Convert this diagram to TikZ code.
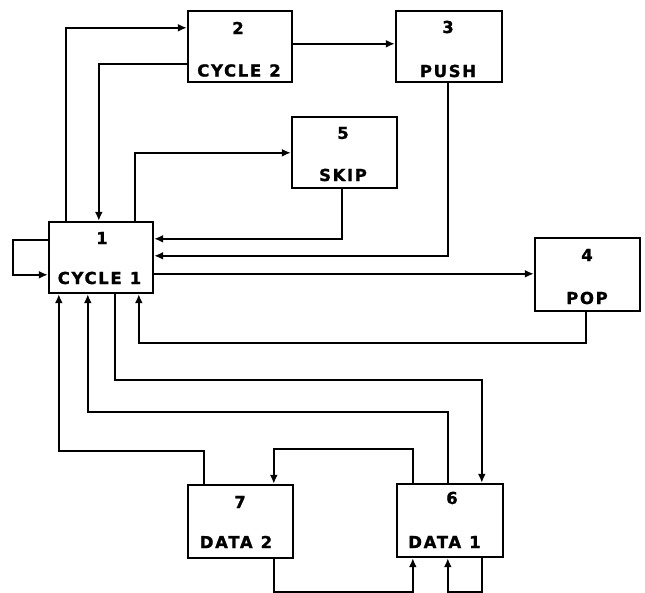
\documentclass[tikz,border=0pt]{standalone}
\usepackage{fontspec}
\setmainfont{DejaVu Sans}
\newfontfamily\lettering[LetterSpace=10,FakeBold=1.2]{DejaVu Sans Bold}
\usetikzlibrary{arrows.meta,calc}
\tikzset{
  blk/.style={draw,line width=2.4pt,rectangle,inner sep=0pt,minimum width=#1,minimum height=71pt},
  blk/.default=104pt,
  lbl/.style={inner sep=0pt,font=\lettering\fontsize{16.5}{18}\selectfont},
  wire/.style={line width=2.3pt},
  arr/.style={wire,-{Latex[length=9pt,width=8pt]}}
}
\begin{document}
\begin{tikzpicture}[x=1pt,y=-1pt]
\useasboundingbox[fill=white] (0,0) rectangle (645,593);
% boxes
\node[blk] (b1) at (101,257.5) {};
\node[blk] (b2) at (240,46.5) {};
\node[blk=106pt] (b3) at (449,46.5) {};
\node[blk=105pt] (b5) at (344.5,152.5) {};
\node[blk=105pt,minimum height=73pt] (b4) at (587.5,274.5) {};
\node[blk=105pt,minimum height=73pt] (b7) at (240.5,521.5) {};
\node[blk=106pt,minimum height=73pt] (b6) at (450,520.5) {};
% labels
\node[lbl] (t1n) at (102,238) {1};
\node[lbl] (t1) at (99.5,278) {CYCLE\hspace{8pt}1};
\node[lbl] (t2n) at (238,28) {2};
\node[lbl] (t2) at (239,70.5) {CYCLE\hspace{8pt}2};
\node[lbl] (t3n) at (448,27) {3};
\node[lbl] (t3) at (448,71) {PUSH};
\node[lbl] (t5n) at (343,133) {5};
\node[lbl] (t5) at (343,175) {SKIP};
\node[lbl] (t4n) at (587,255) {4};
\node[lbl] (t4) at (587,298) {POP};
\node[lbl] (t7n) at (240,502) {7};
\node[lbl] (t7) at (236,542) {DATA\hspace{8pt}2};
\node[lbl] (t6n) at (452,498) {6};
\node[lbl] (t6) at (444.5,542) {DATA\hspace{8pt}1};
% connectors
\draw[arr] ($(b1.north west)+(18,0)$) |- ($(b2.north west)+(0,18)$);
\draw[arr] ($(b2.north west)+(0,54)$) -| ($(b1.north west)+(51,0)$);
\draw[arr] ($(b1.north west)+(87,0)$) |- ($(b5.north west)+(0,37)$);
\draw[arr] ($(b2.north east)+(0,34)$) -- ($(b3.north west)+(0,34)$);
\draw[arr] ($(b5.south west)+(51,0)$) |- ($(b1.north east)+(0,18)$);
\draw[arr] ($(b3.south west)+(53,0)$) |- ($(b1.north east)+(0,35)$);
\draw[arr] ($(b1.north east)+(0,53)$) -- ($(b4.north west)+(0,37)$);
\draw[arr] ($(b1.north west)+(0,19)$) -- ++(-35,0) |- ($(b1.north west)+(0,54)$);
\draw[arr] ($(b4.south west)+(52,0)$) -- ++(0,31) -| ($(b1.south west)+(91,0)$);
\draw[arr] ($(b1.south west)+(67,0)$) -- ++(0,86) -| ($(b6.north west)+(86,0)$);
\draw[arr] ($(b6.north west)+(52,0)$) -- ++(0,-71) -| ($(b1.south west)+(40,0)$);
\draw[arr] ($(b6.north west)+(17,0)$) -- ++(0,-34) -| ($(b7.north west)+(87,0)$);
\draw[arr] ($(b7.north west)+(17,0)$) -- ++(0,-33) -| ($(b1.south west)+(11,0)$);
\draw[arr] ($(b7.south west)+(87,0)$) -- ++(0,33) -| ($(b6.south west)+(17,0)$);
\draw[arr] ($(b6.south west)+(86,0)$) -- ++(0,34) -| ($(b6.south west)+(52,0)$);
\end{tikzpicture}
\end{document}
